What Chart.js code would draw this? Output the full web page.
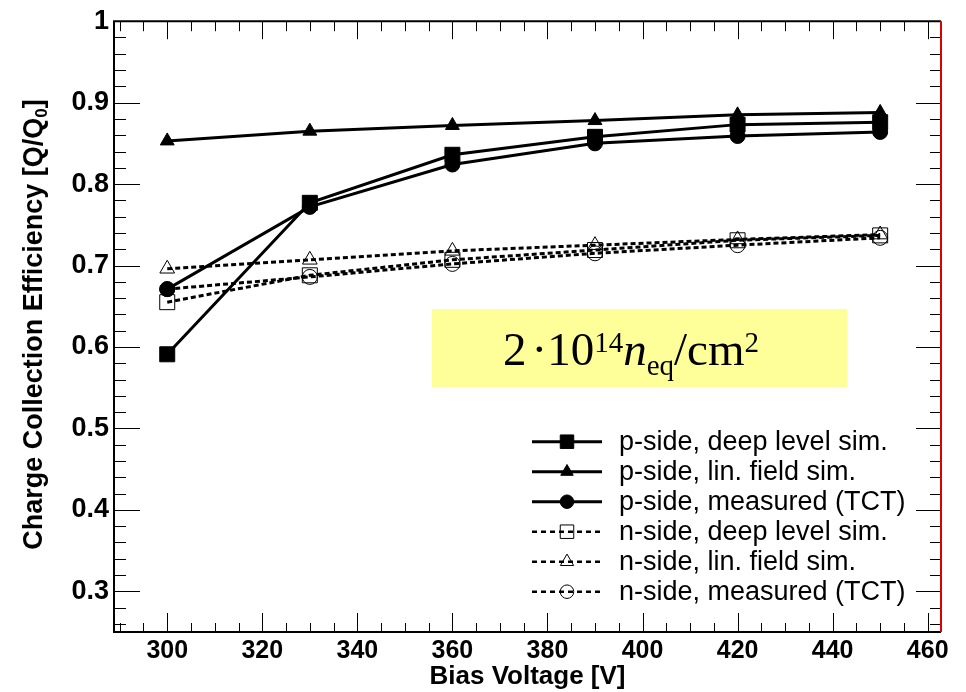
<!DOCTYPE html>
<html>
<head>
<meta charset="utf-8">
<title>Charge Collection Efficiency</title>
<script src="https://cdn.jsdelivr.net/npm/chart.js@4.4.1/dist/chart.umd.min.js"></script>
<style>
  html, body { margin: 0; padding: 0; background: #fff; }
  #wrap { width: 966px; height: 692px; position: relative; }
</style>
</head>
<body>
<div id="wrap"><canvas id="cceChart"></canvas></div>
<script>
// values
const biasVoltage = [300, 330, 360, 390, 420, 450];
const pDeepLevel  = [0.591, 0.777, 0.836, 0.858, 0.873, 0.876];
const pLinField   = [0.853, 0.865, 0.872, 0.878, 0.885, 0.888];
const pMeasured   = [0.671, 0.772, 0.824, 0.850, 0.859, 0.864];
const nDeepLevel  = [0.655, 0.688, 0.707, 0.719, 0.731, 0.737];
const nLinField   = [0.696, 0.707, 0.718, 0.725, 0.732, 0.738];
const nMeasured   = [0.671, 0.686, 0.702, 0.715, 0.725, 0.734];

const seriesLabels = [
    "p-side, deep level sim.",
    "p-side, lin. field sim.",
    "p-side, measured (TCT)",
    "n-side, deep level sim.",
    "n-side, lin. field sim.",
    "n-side, measured (TCT)"
];
const xTickValues = [300, 320, 340, 360, 380, 400, 420, 440, 460];
const yTickValues = [0.3, 0.4, 0.5, 0.6, 0.7, 0.8, 0.9, 1];

const SANS = "'Liberation Sans', Arial, Helvetica, sans-serif";
const SERIF = "'Liberation Serif', 'Times New Roman', serif";

function points(ys) {
    return biasVoltage.map((v, i) => ({ x: v, y: ys[i] }));
}

function series(label, ys, style, filled, dashed, radius) {
    return {
        label: label,
        data: points(ys),
        borderColor: "#000",
        borderWidth: 3,
        borderDash: dashed ? [5, 3] : [],
        pointStyle: style,
        pointRadius: radius,
        pointBorderColor: "#000",
        pointBorderWidth: 1,
        pointBackgroundColor: filled ? "#000" : "rgba(0,0,0,0)",
        fill: false,
        tension: 0
    };
}

// draw a marker the same way chart.js does for these styles
function drawMarker(ctx, style, x, y, r, filled) {
    ctx.beginPath();
    if (style === "rect") {
        const s = Math.SQRT1_2 * r;
        ctx.rect(x - s, y - s, 2 * s, 2 * s);
    } else if (style === "triangle") {
        let rad = 0;
        ctx.moveTo(x + Math.sin(rad) * r, y - Math.cos(rad) * r);
        rad += 2 * Math.PI / 3;
        ctx.lineTo(x + Math.sin(rad) * r, y - Math.cos(rad) * r);
        rad += 2 * Math.PI / 3;
        ctx.lineTo(x + Math.sin(rad) * r, y - Math.cos(rad) * r);
        ctx.closePath();
    } else {
        ctx.arc(x, y, r, 0, Math.PI * 2);
    }
    if (filled) { ctx.fillStyle = "#000"; ctx.fill(); }
    ctx.lineWidth = 1;
    ctx.strokeStyle = "#000";
    ctx.stroke();
}

// frame with inward ticks, ROOT style
const frameTicks = {
    id: "frameTicks",
    beforeDatasetsDraw(chart) {
        const { ctx, chartArea: a, scales: { x, y } } = chart;
        ctx.save();
        ctx.strokeStyle = "#000";
        ctx.lineWidth = 1;
        ctx.beginPath();
        for (let v = 290; v <= 460; v += 5) {
            const px = Math.round(x.getPixelForValue(v)) + 0.5;
            const major = v % 20 === 0;
            ctx.moveTo(px, a.bottom); ctx.lineTo(px, a.bottom - (major ? 19 : 9));
            ctx.moveTo(px, a.top); ctx.lineTo(px, a.top + (major ? 18 : 10));
        }
        for (let i = 13; i <= 50; i++) {
            const py = Math.round(y.getPixelForValue(i * 0.02)) + 0.5;
            const major = i % 5 === 0;
            ctx.moveTo(a.left, py); ctx.lineTo(a.left + (major ? 26 : 12), py);
            ctx.moveTo(a.right, py); ctx.lineTo(a.right - (major ? 25 : 11), py);
        }
        ctx.stroke();

        ctx.lineWidth = 2;
        ctx.beginPath();
        ctx.moveTo(a.right, a.top); ctx.lineTo(a.left, a.top);
        ctx.lineTo(a.left, a.bottom); ctx.lineTo(a.right, a.bottom);
        ctx.stroke();
        ctx.strokeStyle = "#e00000";
        ctx.beginPath();
        ctx.moveTo(a.right, a.top); ctx.lineTo(a.right, a.bottom);
        ctx.stroke();
        ctx.restore();
    },
    afterDraw(chart) {
        const { ctx, chartArea: a } = chart;
        ctx.save();
        ctx.fillStyle = "#000";

        // x title
        ctx.font = "bold 26px " + SANS;
        ctx.textAlign = "center";
        ctx.textBaseline = "middle";
        ctx.fillText("Bias Voltage [V]", (a.left + a.right) / 2, 677);

        // y title with subscript
        ctx.translate(33, (a.top + a.bottom) / 2 - 2);
        ctx.rotate(-Math.PI / 2);
        ctx.textAlign = "left";
        ctx.textBaseline = "alphabetic";
        const main = "Charge Collection Efficiency [Q/Q";
        ctx.font = "bold 27px " + SANS;
        const w1 = ctx.measureText(main).width;
        const w3 = ctx.measureText("]").width;
        ctx.font = "bold 17px " + SANS;
        const w2 = ctx.measureText("0").width;
        let sx = -(w1 + w2 + w3) / 2;
        ctx.font = "bold 27px " + SANS;
        ctx.fillText(main, sx, 9);
        ctx.font = "bold 17px " + SANS;
        ctx.fillText("0", sx + w1, 14);
        ctx.font = "bold 27px " + SANS;
        ctx.fillText("]", sx + w1 + w2, 9);
        ctx.restore();

        // legend
        ctx.save();
        chart.data.datasets.forEach((ds, i) => {
            const ly = 441.7 + i * 30;
            ctx.strokeStyle = "#000";
            ctx.lineWidth = ds.borderDash.length ? 2.5 : 3;
            ctx.setLineDash(ds.borderDash.length ? [5, 4] : []);
            ctx.beginPath();
            ctx.moveTo(532, ly); ctx.lineTo(602, ly);
            ctx.stroke();
            ctx.setLineDash([]);
            drawMarker(ctx, ds.pointStyle, 567, ly, ds.pointRadius * 0.9, ds.pointBackgroundColor === "#000");
            ctx.fillStyle = "#000";
            ctx.font = "27px " + SANS;
            ctx.textAlign = "left";
            ctx.textBaseline = "middle";
            ctx.fillText(ds.label, 619, ly + 1);
        });
        ctx.restore();

        // fluence box
        ctx.save();
        ctx.fillStyle = "#ffff99";
        ctx.fillRect(432, 309, 415, 78);
        ctx.fillStyle = "#000";
        ctx.textBaseline = "alphabetic";
        ctx.textAlign = "left";
        const base = 365;
        let tx = 503;
        const put = (txt, font, dy, gap) => {
            ctx.font = font;
            ctx.fillText(txt, tx, base + dy);
            tx += ctx.measureText(txt).width + (gap || 0);
        };
        put("2", "47px " + SERIF, 0, 5);
        put("\u00b7", "47px " + SERIF, 0, 0);
        put("10", "47px " + SERIF, 0, 0);
        put("14", "29px " + SERIF, -13, 0);
        put("n", "italic 47px " + SERIF, 0, 0);
        put("eq", "29px " + SERIF, 10, 0);
        put("/cm", "47px " + SERIF, 0, 0);
        put("2", "29px " + SERIF, -13, 0);
        ctx.restore();
    }
};

new Chart(document.getElementById("cceChart"), {
    type: "line",
    data: {
        datasets: [
            series(seriesLabels[0], pDeepLevel, "rect", true, false, 10.6),
            series(seriesLabels[1], pLinField, "triangle", true, false, 8),
            series(seriesLabels[2], pMeasured, "circle", true, false, 7.5),
            series(seriesLabels[3], nDeepLevel, "rect", false, true, 10.6),
            series(seriesLabels[4], nLinField, "triangle", false, true, 8.5),
            series(seriesLabels[5], nMeasured, "circle", false, true, 7.5)
        ]
    },
    options: {
        responsive: true,
        maintainAspectRatio: false,
        animation: false,
        layout: { padding: { left: 0, top: 18, right: 25, bottom: 0 } },
        plugins: {
            legend: { display: false },
            tooltip: { enabled: false }
        },
        scales: {
            x: {
                type: "linear",
                min: 288.8,
                max: 462.8,
                grid: { display: false, drawTicks: false },
                border: { display: false },
                afterBuildTicks: scale => { scale.ticks = xTickValues.map(v => ({ value: v })); },
                afterFit: scale => { scale.height = 60; },
                ticks: {
                    padding: 4,
                    color: "#000",
                    font: { family: SANS, size: 25, weight: "bold" },
                    callback: v => String(v)
                }
            },
            y: {
                type: "linear",
                min: 0.25,
                max: 1.0,
                grid: { display: false, drawTicks: false },
                border: { display: false },
                afterBuildTicks: scale => { scale.ticks = yTickValues.map(v => ({ value: v })); },
                afterFit: scale => { scale.width = 114; },
                ticks: {
                    padding: 5,
                    color: "#000",
                    font: { family: SANS, size: 27, weight: "bold" },
                    callback: v => (v === 1 ? "1" : Number(v).toFixed(1))
                }
            }
        }
    },
    plugins: [frameTicks]
});
</script>
</body>
</html>
